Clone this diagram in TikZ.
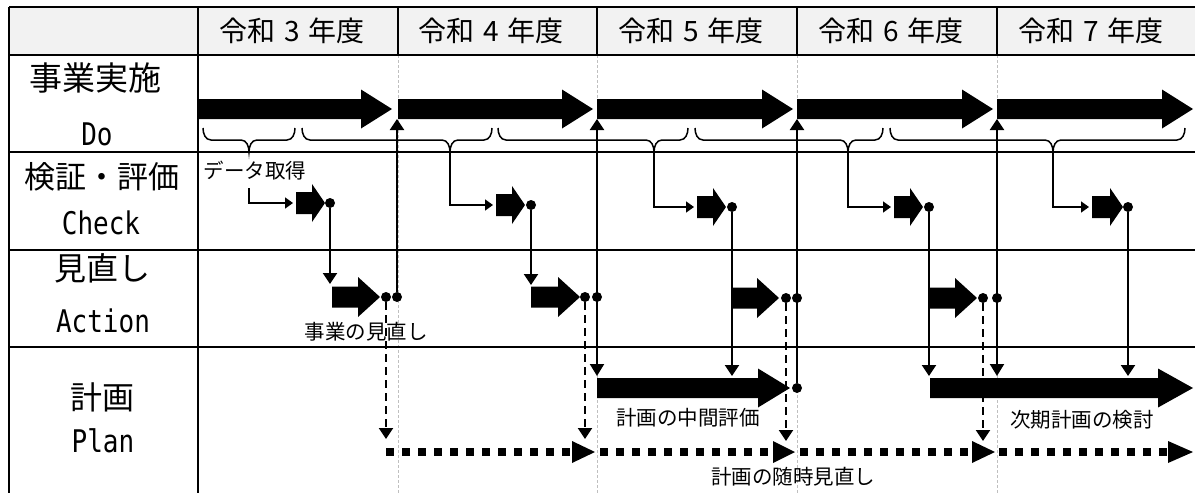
\documentclass[tikz,border=0pt]{standalone}
\usepackage{fontspec}
\usepackage{graphicx}
\setmainfont{Noto Sans CJK JP}
\newfontfamily\monof{DejaVu Sans Mono}
\usetikzlibrary{arrows.meta}
\newcommand\fsz[1]{\fontsize{#1}{#1}\selectfont}
% #1 x start, #2 x tip, #3 y centre, #4 shaft half height, #5 head half height, #6 head length
\newcommand\myblockarrow[6]{%
  \fill (#1,#3-#4) -- (#2-#6,#3-#4) -- (#2-#6,#3-#5) -- (#2,#3) -- (#2-#6,#3+#5) -- (#2-#6,#3+#4) -- (#1,#3+#4) -- cycle;}
% #1 left end, #2 right end, #3 tip x
\newcommand\mybrace[3]{%
  \draw[brc] (#1,128) to[out=-90,in=180] (#1+8,140) -- (#3-8,140) to[out=0,in=90] (#3,152)
     to[out=90,in=180] (#3+8,140) -- (#2-8,140) to[out=0,in=-90] (#2,128);}
% #1 start, #2 head base, #3 tip
\newcommand\mydotarrow[3]{%
  \draw[line width=8pt, dash pattern=on 8pt off 8pt] (#1,452) -- (#2,452);
  \fill (#2,441) -- (#3,452) -- (#2,463) -- cycle;}
\definecolor{hdrgray}{HTML}{F2F2F2}
\tikzset{
  tbl/.style={line width=2.6pt},
  grid/.style={draw=black!25, line width=0.8pt, dash pattern=on 3pt off 2pt},
  brc/.style={line width=1.5pt},
  conn/.style={line width=2pt},
  dn/.style={conn, -{Triangle[width=14pt,length=11pt]}},
  both/.style={conn, {Triangle[width=14pt,length=12pt]}-{Triangle[width=14pt,length=11pt]}},
  dsh/.style={conn, dash pattern=on 8pt off 5pt, -{Triangle[width=14pt,length=11pt]}},
  elb/.style={line width=1.5pt, -{Triangle[width=11pt,length=8pt]}},
  dotn/.style={circle, fill, inner sep=0pt, minimum size=10pt},
  hdr/.style={inner sep=0pt, font=\fsz{28}},
  rl/.style={inner sep=0pt},
  sm/.style={inner sep=0pt, font=\fsz{20.5}},
}
\newcommand\latinlbl[1]{\scalebox{1}[1.2]{\monof\fsz{26}#1}}
\newcommand\yr[1]{令和\hspace{0.3em}#1\hspace{0.3em}年度}
\begin{document}
\begin{tikzpicture}[x=1pt,y=-1pt]
\useasboundingbox (0,0) rectangle (1195,493);
% header background
\fill[hdrgray] (9,7) rectangle (1195,55);
% grey guide lines
\foreach \x in {398,597,797,997} \draw[grid] (\x,55) -- (\x,493);
% table lines
\draw[tbl] (9,7) -- (1195,7);
\draw[tbl] (9,55) -- (1195,55);
\foreach \y in {152,250,347} \draw[tbl] (9,\y) -- (1195,\y);
\draw[tbl] (9,7) -- (9,493);
\draw[tbl] (198,7) -- (198,493);
\foreach \x in {398,597,797,997} \draw[tbl] (\x,7) -- (\x,55);
% header texts
\node[hdr] (h3) at (292,31) {\yr{3}};
\node[hdr] (h4) at (491,31) {\yr{4}};
\node[hdr] (h5) at (691,31) {\yr{5}};
\node[hdr] (h6) at (891,31) {\yr{6}};
\node[hdr] (h7) at (1091,31) {\yr{7}};
% row labels
\node[rl, font=\fsz{33}] (l1a) at (96,78) {事業実施};
\node[rl] (l1b) at (97,134) {\latinlbl{Do}};
\node[rl, font=\fsz{31}] (l2a) at (102,177) {検証・評価};
\node[rl] (l2b) at (101,223) {\latinlbl{Check}};
\node[rl, font=\fsz{32}] (l3a) at (102,268) {見直し};
\node[rl] (l3b) at (103,321) {\latinlbl{Action}};
\node[rl, font=\fsz{32}] (l4a) at (102,397) {計画};
\node[rl] (l4b) at (103,441) {\latinlbl{Plan}};
% Do arrows
\myblockarrow{198}{392}{109}{10}{19.5}{31}
\myblockarrow{398}{593}{109}{10}{19.5}{31}
\myblockarrow{597}{793}{109}{10}{19.5}{31}
\myblockarrow{797}{993}{109}{10}{19.5}{31}
\myblockarrow{997}{1193}{109}{10}{19.5}{31}
% braces
\mybrace{203}{295}{249}
\mybrace{302}{492}{450}
\mybrace{498}{688}{654}
\mybrace{695}{883}{848}
\mybrace{890}{1185}{1053}
% check row
\node[sm] (dat) at (255,171) {データ取得};
\coordinate (e3) at (249,188);
\coordinate (e4) at (450,152);
\coordinate (e5) at (654,152);
\coordinate (e6) at (848,152);
\coordinate (e7) at (1053,152);
\draw[elb] (e3) |- (293,203);
\draw[elb] (e4) |- (493,205);
\draw[elb] (e5) |- (694,207);
\draw[elb] (e6) |- (891,207);
\draw[elb] (e7) |- (1089,207);
\myblockarrow{296}{325}{203}{11}{19}{13}
\myblockarrow{496}{525}{205}{11}{19}{13}
\myblockarrow{697}{726}{207}{11}{19}{13}
\myblockarrow{894}{923}{207}{11}{19}{13}
\myblockarrow{1092}{1123}{207}{11}{19}{13}
\node[dotn] (c3) at (330,203) {};
\node[dotn] (c4) at (531,205) {};
\node[dotn] (c5) at (732,207) {};
\node[dotn] (c6) at (929,207) {};
\node[dotn] (c7) at (1128,207) {};
% action row
\myblockarrow{332}{380}{297}{10.5}{20}{22}
\myblockarrow{531}{580}{297}{10.5}{20}{22}
\myblockarrow{733}{779}{298}{10.5}{20}{22}
\myblockarrow{929}{977}{298}{10.5}{20}{22}
\node[dotn] (a3d) at (386,297) {};
\node[dotn] (a3s) at (397,297) {};
\node[dotn] (a4d) at (585,297) {};
\node[dotn] (a4s) at (597,297) {};
\node[dotn] (a5d) at (786,298) {};
\node[dotn] (a5s) at (797,298) {};
\node[dotn] (a6d) at (983,298) {};
\node[dotn] (a6s) at (997,298) {};
\node[sm] (rev) at (366,332) {事業の見直し};
% plan row
\myblockarrow{597}{790}{388}{10}{19.5}{32}
\myblockarrow{930}{1193}{388}{10}{19.5}{35}
\node[dotn] (p5) at (797,388) {};
\node[sm] (mid) at (688,418) {計画の中間評価};
\node[sm] (nxt) at (1082,420) {次期計画の検討};
\node[sm] (any) at (793,477) {計画の随時見直し};
\mydotarrow{386}{572}{595}
\mydotarrow{600}{773}{795}
\mydotarrow{800}{972}{995}
\mydotarrow{999}{1168}{1193}
% targets
\coordinate (t3) at (330,284);
\coordinate (t4) at (531,285);
\coordinate (t5) at (732,376);
\coordinate (t6) at (929,376);
\coordinate (t7) at (1128,376);
\coordinate (u3) at (397,119);
\coordinate (u4) at (597,119);
\coordinate (u5) at (797,119);
\coordinate (u6) at (997,119);
\coordinate (b4) at (597,376);
\coordinate (b6) at (997,376);
\coordinate (d3) at (386,439);
\coordinate (d4) at (585,439);
\coordinate (d5) at (786,441);
\coordinate (d6) at (983,441);
% connectors
\draw[dn] (c3) -- (t3);
\draw[dn] (c4) -- (t4);
\draw[dn] (c5) -- (t5);
\draw[dn] (c6) -- (t6);
\draw[dn] (c7) -- (t7);
\draw[dn] (a3s) -- (u3);
\draw[both] (b4) -- (u4);
\draw[dn] (p5) -- (u5);
\draw[both] (b6) -- (u6);
\draw[dsh] (a3d) -- (d3);
\draw[dsh] (a4d) -- (d4);
\draw[dsh] (a5d) -- (d5);
\draw[dsh] (a6d) -- (d6);
\end{tikzpicture}
\end{document}
